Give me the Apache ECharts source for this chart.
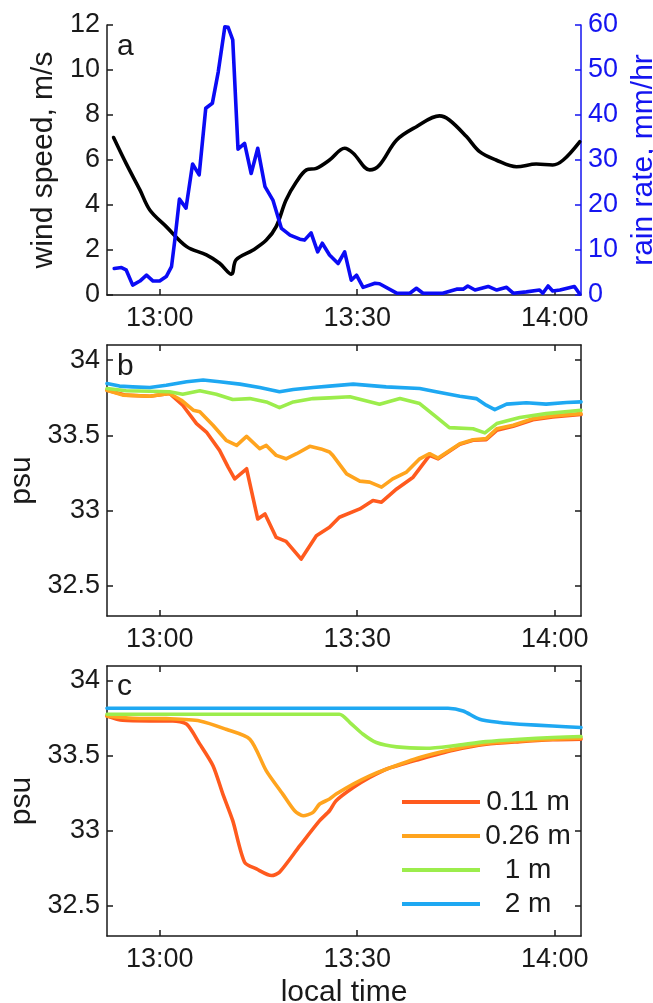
<!DOCTYPE html>
<html><head><meta charset="utf-8">
<script src="https://cdn.jsdelivr.net/npm/echarts@6/dist/echarts.min.js"></script>
<style>html,body{margin:0;padding:0;background:#fff}#c{width:653px;height:1003px}</style>
</head><body><div id="c"></div>
<script>
// time: minutes relative to 13:00 local time
const timeTicks = [0, 30, 60];
const salTicks = [32.5, 33, 33.5, 34];
const depthNames = ['0.11 m', '0.26 m', '1 m', '2 m'];

const windSpeed = [[-7.0,7.0],[-5.1,5.85],[-3.0,4.67],[-1.5,3.78],[1.0,3.04],[4.1,2.15],[7.1,1.78],[9.1,1.41],[10.9,0.92],[11.6,1.56],[14.2,2.0],[16.2,2.44],[17.7,3.04],[19.2,4.22],[20.8,5.04],[22.3,5.56],[23.8,5.63],[25.8,6.0],[28.1,6.52],[29.4,6.3],[31.9,5.56],[33.4,5.78],[36.0,6.89],[39.0,7.48],[42.5,7.96],[44.0,7.78],[46.6,7.04],[48.6,6.37],[51.1,6.0],[54.2,5.7],[57.2,5.82],[59.7,5.78],[61.3,6.0],[63.8,6.81]];

const rainRate = [[-6.9,5.9],[-5.8,6.1],[-5.1,5.6],[-4.1,2.2],[-3.0,3.1],[-2.0,4.4],[-1.0,3.1],[0,3.1],[1.0,4.1],[1.8,6.3],[2.3,12.2],[3.0,21.3],[4.0,19.3],[5.0,29.1],[6.0,26.7],[7.0,41.5],[8.0,42.6],[8.9,49.6],[9.9,59.6],[10.4,59.5],[11.1,56.7],[11.9,32.4],[12.9,33.7],[13.9,27.0],[14.9,32.6],[16.0,24.1],[17.2,21.1],[18.5,14.8],[19.8,13.3],[21.3,12.4],[22.0,12.2],[23.0,13.8],[24.0,9.6],[24.7,11.5],[25.8,8.9],[27.1,7.0],[28.1,9.6],[29.1,3.3],[29.9,4.4],[30.9,1.7],[32.7,2.6],[33.4,2.5],[36.0,0.4],[38.0,0.4],[39.0,1.5],[40.0,0.4],[43.0,0.4],[45.1,1.3],[46.1,1.3],[46.8,2.0],[47.9,1.1],[49.9,1.9],[51.2,1.1],[52.7,1.7],[53.7,0.4],[55.7,0.7],[57.7,1.1],[58.2,0.4],[59.0,2.0],[59.7,0.9],[60.8,1.1],[63.0,1.9],[63.8,0.2]];

const obs011 = [[-8,33.80],[-5.1,33.767],[-1.5,33.76],[1.5,33.778],[3.5,33.70],[5.6,33.578],[7.1,33.522],[9.1,33.40],[10.4,33.289],[11.4,33.211],[13.2,33.278],[14.9,32.944],[16.0,32.978],[17.7,32.822],[19.2,32.796],[21.5,32.678],[23.8,32.833],[25.8,32.889],[27.3,32.956],[30.4,33.011],[32.4,33.067],[33.7,33.056],[36.0,33.144],[38.5,33.222],[41.0,33.367],[42.3,33.344],[45.6,33.44],[47.6,33.467],[49.6,33.471],[51.2,33.533],[53.7,33.56],[56.7,33.604],[59.7,33.622],[64,33.638]];
const obs026 = [[-8,33.80],[-5.6,33.767],[-1.5,33.76],[1.5,33.778],[3.3,33.733],[5.1,33.667],[6.1,33.656],[8.1,33.567],[10.1,33.467],[11.7,33.433],[13.2,33.493],[15.2,33.411],[16.2,33.433],[17.7,33.367],[19.2,33.344],[20.8,33.378],[22.8,33.427],[24.5,33.41],[25.8,33.389],[26.3,33.367],[28.4,33.244],[30.4,33.196],[31.9,33.189],[33.7,33.156],[35.4,33.211],[37.5,33.256],[39.5,33.344],[41.0,33.378],[42.3,33.349],[45.6,33.444],[47.6,33.471],[49.6,33.478],[51.2,33.544],[53.7,33.567],[56.7,33.611],[59.7,33.629],[64,33.644]];
const obs1 = [[-8,33.811],[-5.1,33.796],[-1.5,33.793],[1.5,33.789],[3.5,33.773],[6.1,33.796],[8.6,33.773],[11.1,33.738],[13.7,33.744],[16.2,33.722],[18.2,33.684],[20.3,33.722],[23.3,33.744],[25.8,33.749],[28.9,33.756],[33.4,33.707],[36.5,33.744],[39.5,33.711],[42.0,33.622],[44.0,33.551],[47.6,33.544],[49.4,33.516],[51.2,33.578],[54.7,33.618],[58.7,33.644],[64,33.667]];
const obs2 = [[-8,33.844],[-6.1,33.827],[-4.1,33.822],[-1.5,33.818],[1.0,33.833],[4.1,33.856],[6.6,33.867],[9.1,33.856],[12.2,33.84],[15.2,33.818],[18.2,33.789],[20.3,33.804],[23.3,33.818],[25.8,33.827],[29.4,33.84],[34.4,33.822],[39.5,33.811],[42.0,33.789],[45.6,33.76],[48.1,33.744],[49.6,33.70],[50.9,33.671],[52.7,33.707],[55.7,33.716],[58.7,33.707],[61.8,33.718],[64,33.722]];

const mod011 = [[-8,33.767],[-5.6,33.738],[-1.5,33.734],[2.0,33.734],[4.1,33.712],[6.1,33.579],[8.1,33.435],[9.6,33.246],[11.1,33.069],[12.9,32.792],[14.7,32.747],[17.0,32.703],[18.2,32.725],[21.3,32.902],[24.3,33.069],[25.8,33.135],[26.8,33.202],[29.4,33.29],[31.9,33.357],[34.4,33.412],[39.5,33.479],[44.6,33.539],[49.6,33.579],[54.7,33.596],[59.7,33.608],[64,33.612]];
const mod026 = [[-8,33.767],[-4.1,33.752],[1.0,33.749],[6.1,33.734],[10.1,33.678],[13.7,33.612],[16.2,33.401],[18.7,33.246],[20.5,33.135],[21.8,33.102],[23.3,33.124],[24.3,33.18],[25.8,33.213],[26.8,33.246],[29.4,33.313],[31.9,33.368],[34.4,33.412],[39.5,33.49],[44.6,33.545],[49.6,33.583],[54.7,33.60],[59.7,33.612],[64,33.619]];
const mod1 = [[-8,33.778],[27.3,33.778],[28.9,33.723],[30.9,33.645],[32.9,33.59],[36.0,33.561],[40.5,33.552],[44.6,33.568],[49.6,33.596],[54.7,33.612],[59.7,33.623],[64,33.63]];
const mod2 = [[-8,33.818],[43.8,33.818],[46.1,33.80],[48.6,33.745],[51.7,33.723],[54.7,33.712],[59.7,33.70],[64,33.69]];

const depthColors = ['#ff5a1e', '#ffa41e', '#9ced4c', '#1ea8f2'];
const FONT = 'Liberation Sans';
const TXT = '#1a1a1a';
const LW = 3.6;

function hhmm(v) {
  const tot = 13 * 60 + v;
  const h = Math.floor(tot / 60), m = tot % 60;
  return h + ':' + (m < 10 ? '0' + m : m);
}

const grids = [
  {left: 107, top: 25, width: 474, height: 270, outerBoundsMode: 'none', containLabel: false},
  {left: 107, top: 345, width: 474, height: 271, outerBoundsMode: 'none', containLabel: false},
  {left: 107, top: 666, width: 474, height: 270, outerBoundsMode: 'none', containLabel: false}
];

function timeAxis(gi, extra) {
  return Object.assign({
    type: 'value', gridIndex: gi, min: -8, max: 64,
    axisLine: {show: true, onZero: false, lineStyle: {color: TXT, width: 1.5}},
    axisTick: {show: true, inside: true, length: 6, customValues: timeTicks, lineStyle: {color: TXT, width: 1.5}},
    axisLabel: {show: true, customValues: timeTicks, formatter: hhmm, margin: 10,
      fontFamily: FONT, fontSize: 27, color: TXT},
    splitLine: {show: false}
  }, extra || {});
}
function salAxis(gi, extra) {
  return Object.assign({
    type: 'value', gridIndex: gi, min: 32.3, max: 34.1,
    axisLine: {show: true, onZero: false, lineStyle: {color: TXT, width: 1.5}},
    axisTick: {show: true, inside: true, length: 6, customValues: salTicks, lineStyle: {color: TXT, width: 1.5}},
    axisLabel: {show: true, customValues: salTicks, margin: 7,
      fontFamily: FONT, fontSize: 27, color: TXT},
    splitLine: {show: false}
  }, extra || {});
}

const xAxes = [
  timeAxis(0),
  timeAxis(1),
  timeAxis(1, {position: 'top', axisLabel: {show: false}}),
  timeAxis(2, {name: 'local time', nameLocation: 'middle', nameGap: 42,
    nameTextStyle: {fontFamily: FONT, fontSize: 30, color: TXT}}),
  timeAxis(2, {position: 'top', axisLabel: {show: false}})
];

const yAxes = [
  {type: 'value', gridIndex: 0, min: 0, max: 12, interval: 2, position: 'left',
    name: 'wind speed, m/s', nameLocation: 'middle', nameGap: 46, nameRotate: 90,
    nameTextStyle: {fontFamily: FONT, fontSize: 30, color: TXT},
    axisLine: {show: true, onZero: false, lineStyle: {color: TXT, width: 1.5}},
    axisTick: {show: true, inside: true, length: 6, lineStyle: {color: TXT, width: 1.5}},
    axisLabel: {margin: 7, fontFamily: FONT, fontSize: 27, color: TXT},
    splitLine: {show: false}},
  {type: 'value', gridIndex: 0, min: 0, max: 60, interval: 10, position: 'right',
    name: 'rain rate, mm/hr', nameLocation: 'middle', nameGap: 46, nameRotate: 90,
    nameTextStyle: {fontFamily: FONT, fontSize: 30, color: '#1515f0'},
    axisLine: {show: true, onZero: false, lineStyle: {color: '#1515f0', width: 1.5}},
    axisTick: {show: true, inside: true, length: 6, lineStyle: {color: '#1515f0', width: 1.5}},
    axisLabel: {margin: 7, fontFamily: FONT, fontSize: 27, color: '#1515f0'},
    splitLine: {show: false}},
  salAxis(1, {name: 'psu', nameLocation: 'middle', nameGap: 68, nameRotate: 90,
    nameTextStyle: {fontFamily: FONT, fontSize: 30, color: TXT}}),
  salAxis(1, {position: 'right', axisLabel: {show: false}}),
  salAxis(2, {name: 'psu', nameLocation: 'middle', nameGap: 68, nameRotate: 90,
    nameTextStyle: {fontFamily: FONT, fontSize: 30, color: TXT}}),
  salAxis(2, {position: 'right', axisLabel: {show: false}})
];

function line(name, data, xi, yi, color, width, smooth, z) {
  return {type: 'line', name: name, data: data, xAxisIndex: xi, yAxisIndex: yi,
    showSymbol: false, symbol: 'none', smooth: smooth, z: z || 2,
    lineStyle: {color: color, width: width, join: 'round', cap: 'round'}, itemStyle: {color: color},
    clip: true, animation: false};
}

const obsSets = [obs011, obs026, obs1, obs2];
const modSets = [mod011, mod026, mod1, mod2];
const series = [
  line('wind', windSpeed, 0, 0, '#000000', LW, 0.35, 2),
  line('rain', rainRate, 0, 1, '#0b0bf5', LW, false, 3)
];
depthNames.forEach((n, i) => series.push(line(n, obsSets[i], 1, 2, depthColors[i], LW, false, 2 + i)));
depthNames.forEach((n, i) => series.push(line(n, modSets[i], 3, 4, depthColors[i], LW, 0.25, 2 + i)));

const chart = echarts.init(document.getElementById('c'), null, {renderer: 'canvas'});
chart.setOption({
  animation: false,
  backgroundColor: '#ffffff',
  grid: grids,
  xAxis: xAxes,
  yAxis: yAxes,
  series: series,
  legend: {
    data: depthNames, orient: 'vertical', left: 397, top: 783,
    icon: 'rect', itemWidth: 78, itemHeight: 4, itemGap: 6,
    selectedMode: false,
    formatter: n => '{t|' + n + '}',
    textStyle: {fontFamily: FONT, fontSize: 28, color: TXT,
      rich: {t: {width: 86, align: 'center', fontFamily: FONT, fontSize: 28, color: TXT}}}
  },
  graphic: [
    {type: 'text', left: 117, top: 32, style: {text: 'a', font: '30px "Liberation Sans"', fill: TXT}},
    {type: 'text', left: 117, top: 352, style: {text: 'b', font: '30px "Liberation Sans"', fill: TXT}},
    {type: 'text', left: 117, top: 672, style: {text: 'c', font: '30px "Liberation Sans"', fill: TXT}}
  ]
});
</script>
</body></html>
